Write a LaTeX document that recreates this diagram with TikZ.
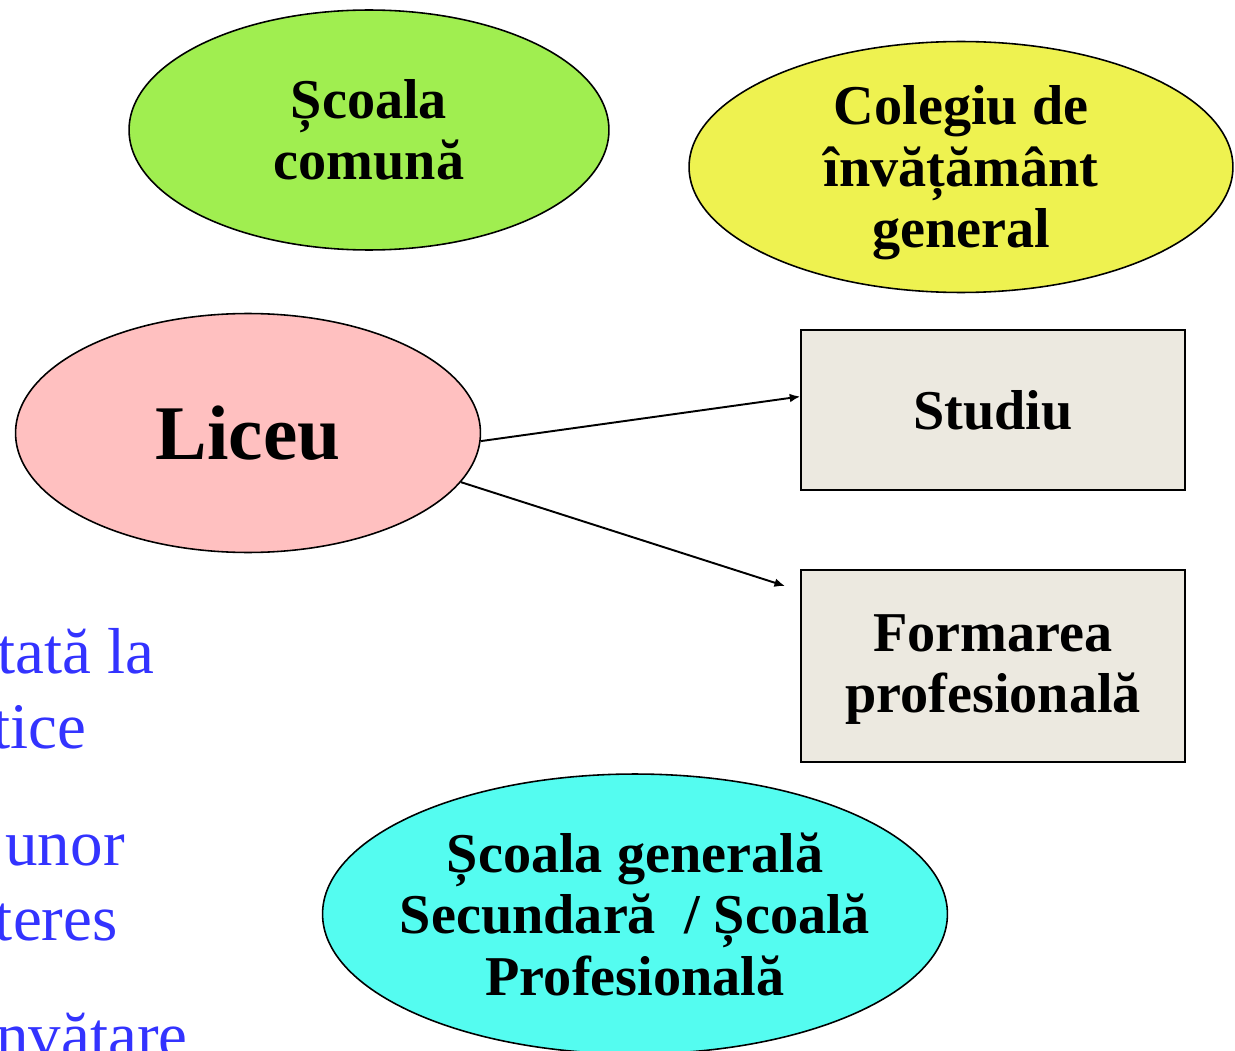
\documentclass[tikz,border=0pt]{standalone}
\usepackage{fontspec}
\setmainfont{Liberation Serif}
\usetikzlibrary{shapes.geometric}
\usetikzlibrary{arrows.meta}

\definecolor{greenfill}{RGB}{160,238,80}
\definecolor{yellowfill}{RGB}{238,242,80}
\definecolor{pinkfill}{RGB}{255,192,192}
\definecolor{cyanfill}{RGB}{84,252,240}
\definecolor{boxfill}{RGB}{236,233,224}
\definecolor{sideblue}{RGB}{51,51,255}

\begin{document}
\begin{tikzpicture}[
    x=0.02cm, y=-0.02cm, % one unit is one pixel, y grows downwards
    oval/.style={
        draw, % Thin black outline
        ellipse,
        line width=0.9pt,
        inner sep=0pt
    },
    box/.style={
        draw, % Plain rectangle
        fill=boxfill,
        line width=0.9pt,
        minimum width=7.68cm,
        inner sep=0pt
    },
    txt/.style={
        align=center, % Center the lines
        font=\bfseries\fontsize{32}{35}\selectfont
    },
    side/.style={
        anchor=base east, % text runs off the left edge
        inner sep=0pt,
        text=sideblue,
        font=\fontsize{37}{42}\selectfont
    },
    link/.style={-{Latex[length=6pt,width=5pt]}, line width=1.1pt}
]
\useasboundingbox (0,0) rectangle (1235,1051);

% text cut by the left edge
\node[side] (side1) at (155,673) {tată la};
\node[side] (side2) at (87,748) {tice};
\node[side] (side3) at (125,865) {unor};
\node[side] (side4) at (118,940) {teres};
\node[side] (side5) at (188,1057) {nvătare};

\node[oval, fill=greenfill, minimum width=9.6cm, minimum height=4.8cm] (scoala) at (369,130) {};
\node[txt] (scoalatxt) at (scoala.center) {Școala\\comună};

\node[oval, fill=yellowfill, minimum width=10.88cm, minimum height=5.02cm] (colegiu) at (961,167) {};
\node[txt] (colegiutxt) at ([yshift=-3.5pt]colegiu.center) {Colegiu de\\învățământ\\general};

\node[oval, fill=pinkfill, minimum width=9.3cm, minimum height=4.78cm] (liceu) at (248,433) {};
\node[txt, font=\bfseries\fontsize{44}{48}\selectfont] (liceutxt) at (liceu.center) {Liceu};

\node[box, minimum height=3.2cm] (studiu) at (993,410) {};
\node[txt] (studiutxt) at (studiu.center) {Studiu};

\node[box, minimum height=3.84cm] (formarea) at (993,666) {};
\node[txt] (formareatxt) at ([yshift=-2pt]formarea.center) {Formarea\\profesională};

\node[oval, fill=cyanfill, minimum width=12.5cm, minimum height=5.6cm] (generala) at (635,914) {};
\node[txt] (generalatxt) at (generala.center) {Școala generală\\Secundară~~/ Școală\\Profesională};

\coordinate (formtip) at (785,586);
\draw[link] (liceu.-2) -- (studiu.176);
\draw[link] (liceu.-13) -- (formtip);
\end{tikzpicture}
\end{document}
